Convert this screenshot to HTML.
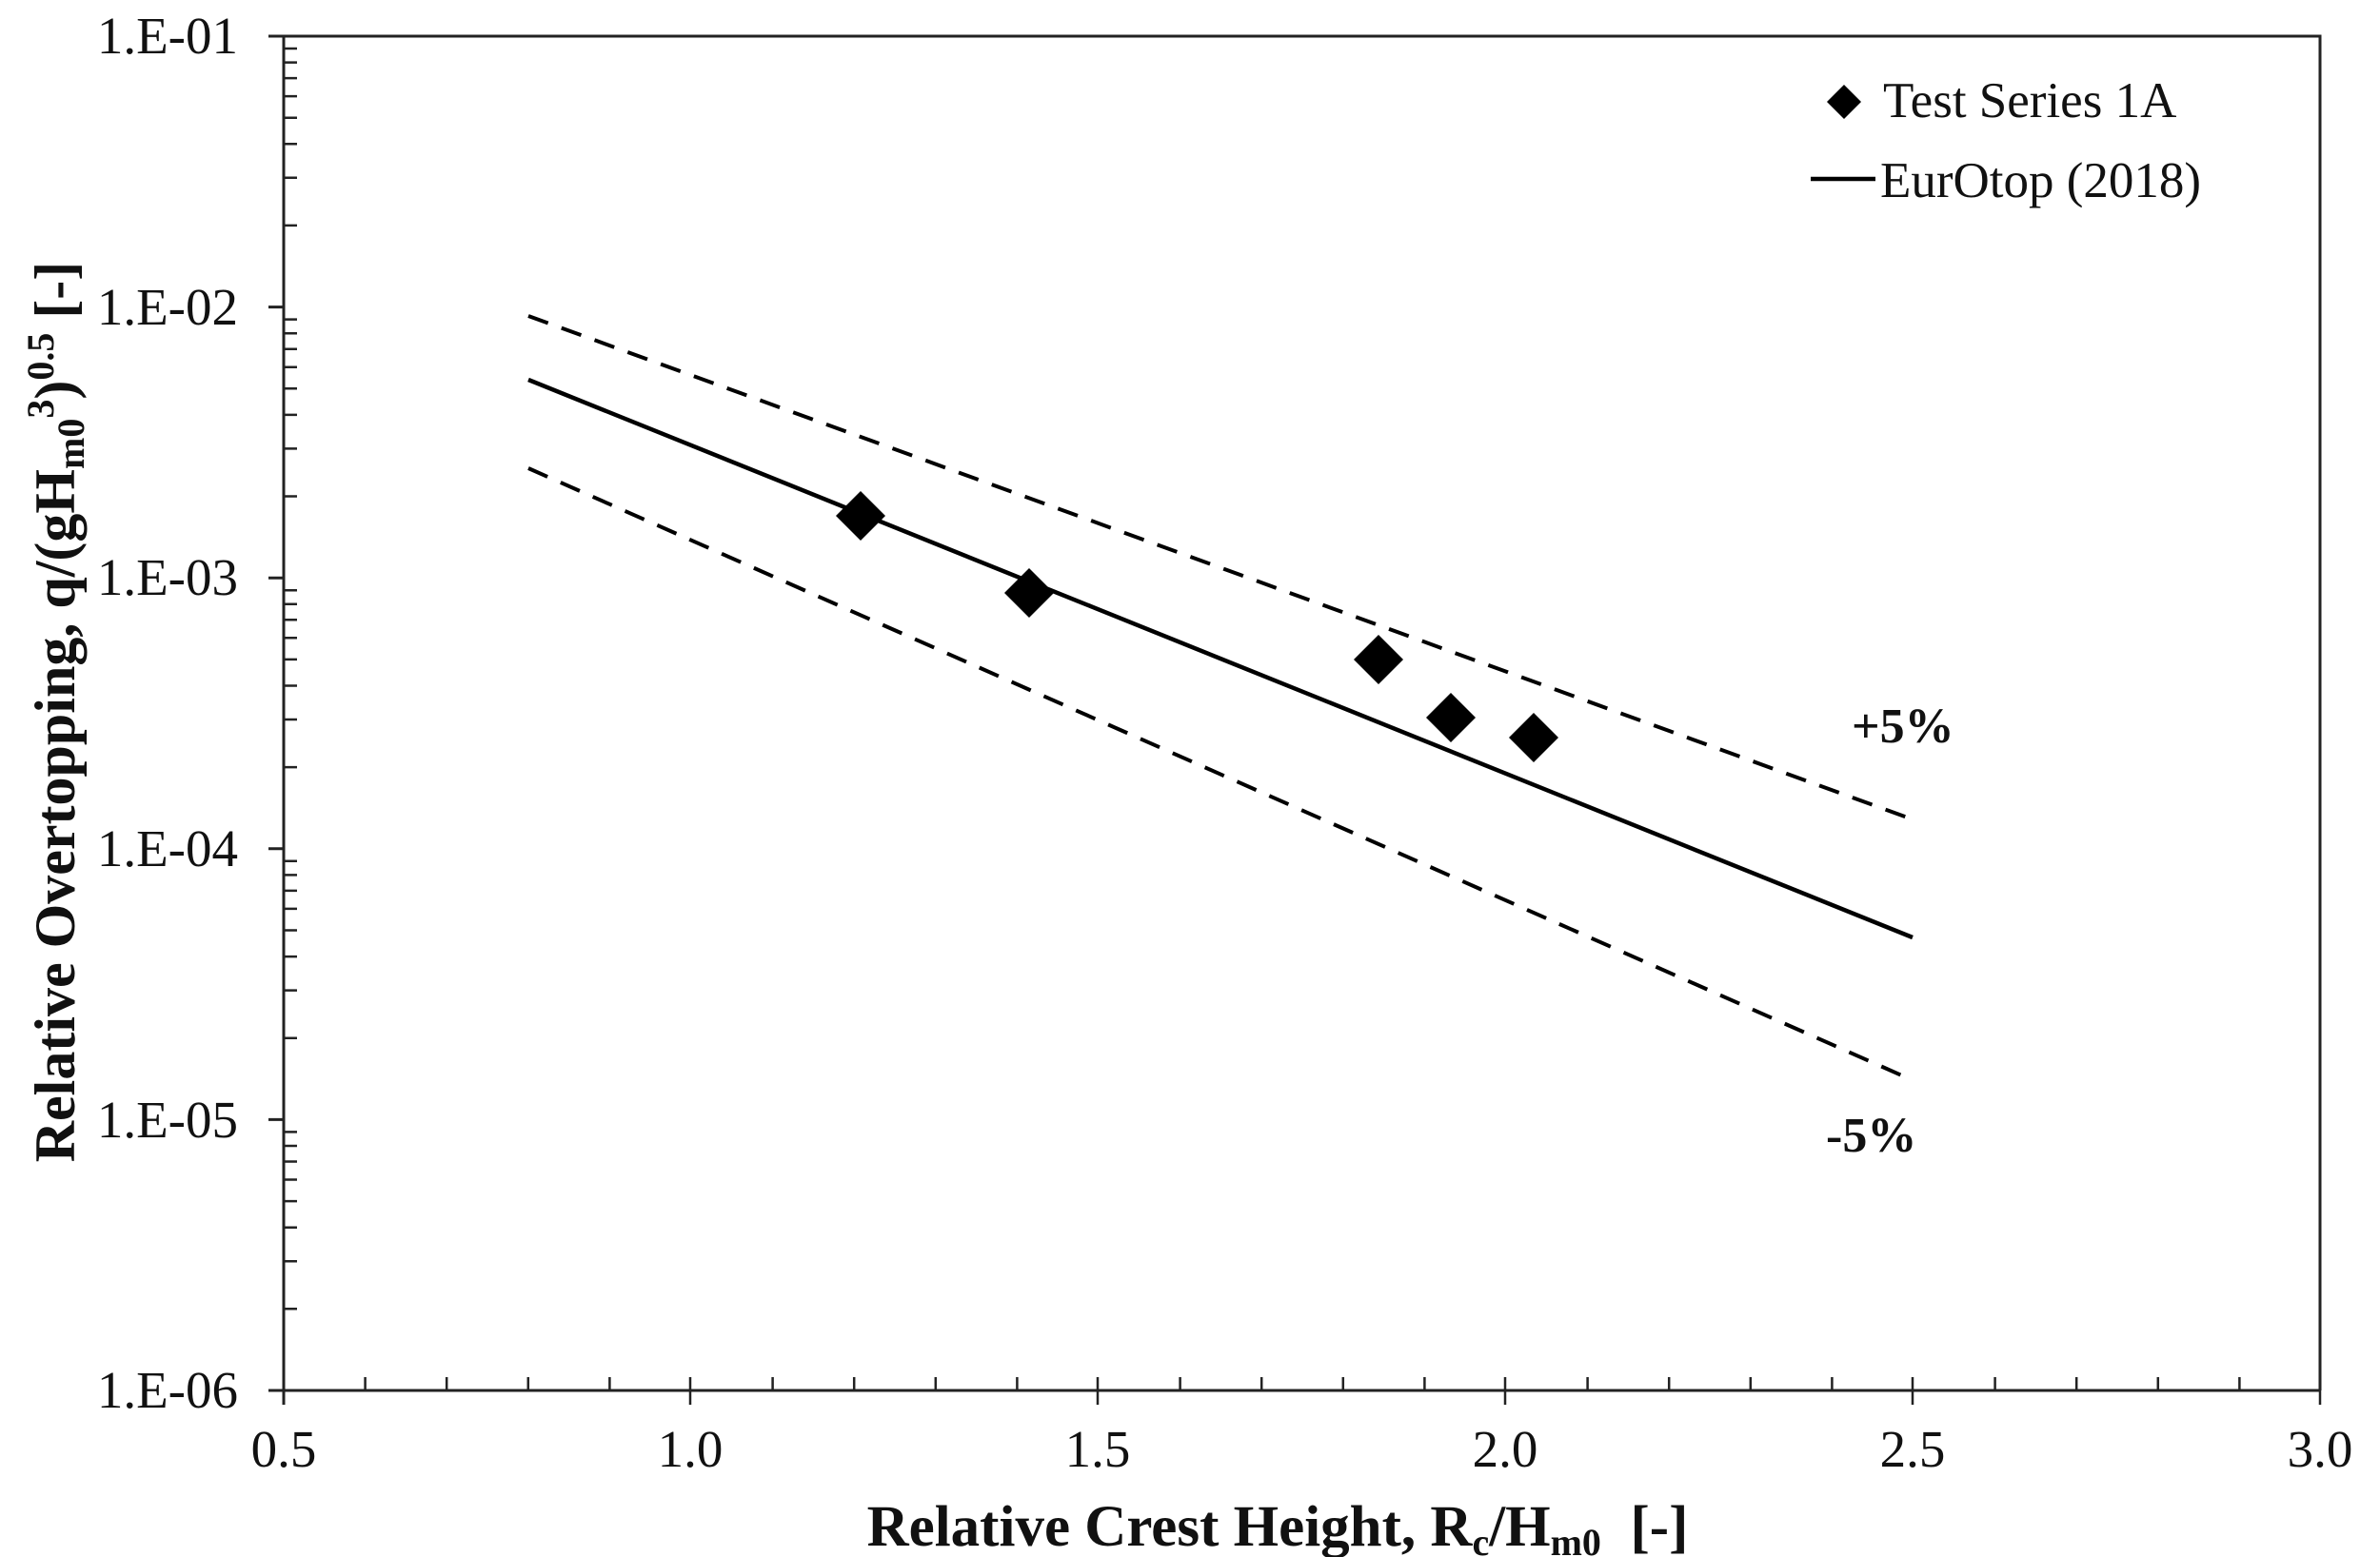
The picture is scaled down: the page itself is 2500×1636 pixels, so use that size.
<!DOCTYPE html>
<html><head><meta charset="utf-8"><style>html,body{margin:0;padding:0;background:#fff}svg{display:block}</style></head>
<body>
<svg width="2500" height="1636" viewBox="0 0 2500 1636" xmlns="http://www.w3.org/2000/svg" xmlns:xlink="http://www.w3.org/1999/xlink" font-family="'Liberation Serif', serif">
<defs>
<path id="dec" stroke="#222" stroke-width="2.5" d="M298 -85.7h14 M298 -135.8h14 M298 -171.3h14 M298 -198.9h14 M298 -221.5h14 M298 -240.5h14 M298 -257h14 M298 -271.6h14"/>
<path id="xm" stroke="#222" stroke-width="2.5" d="M383.6 1447v14 M469.2 1447v14 M554.8 1447v14 M640.4 1447v14 M725 1447v29"/>
</defs>
<rect width="2500" height="1636" fill="#fff"/>
<g stroke="#222" stroke-width="3" fill="none">
<path d="M283 38 H2437 V1461 M298 38 V1476 M283 1461 H2437"/>
<path d="M282 38H298 M282 322.6H298 M282 607.2H298 M282 891.8H298 M282 1176.4H298 M282 1461H298"/>
</g>
<use xlink:href="#dec" href="#dec" y="322.6"/>
<use xlink:href="#dec" href="#dec" y="607.2"/>
<use xlink:href="#dec" href="#dec" y="891.8"/>
<use xlink:href="#dec" href="#dec" y="1176.4"/>
<use xlink:href="#dec" href="#dec" y="1461"/>
<use xlink:href="#xm" href="#xm" x="0"/>
<use xlink:href="#xm" href="#xm" x="428"/>
<use xlink:href="#xm" href="#xm" x="856"/>
<use xlink:href="#xm" href="#xm" x="1284"/>
<use xlink:href="#xm" href="#xm" x="1712"/>
<g stroke="#000" stroke-width="4.5" fill="none">
<line x1="555" y1="399" x2="2009" y2="985"/>
</g>
<g stroke="#000" stroke-width="4" fill="none" stroke-dasharray="22 15">
<line x1="555" y1="332" x2="2009" y2="861"/>
<line x1="555" y1="492" x2="2009" y2="1135"/>
</g>
<g fill="#000">
<path d="M904 516 l26 26 l-26 26 l-26 -26z"/>
<path d="M1081 597 l26 26 l-26 26 l-26 -26z"/>
<path d="M1448 667 l26 26 l-26 26 l-26 -26z"/>
<path d="M1524 728 l26 26 l-26 26 l-26 -26z"/>
<path d="M1611 749 l26 26 l-26 26 l-26 -26z"/>
<path d="M1937 89 l18 18 l-18 18 l-18 -18z"/>
</g>
<line x1="1902" y1="188" x2="1970" y2="188" stroke="#000" stroke-width="4.5"/>
<g font-size="53" fill="#111">
<text x="1978" y="123">Test Series 1A</text>
<text x="1975" y="207">EurOtop (2018)</text>
</g>
<g font-size="55" fill="#111" text-anchor="end">
<text x="250" y="56">1.E-01</text>
<text x="250" y="341">1.E-02</text>
<text x="250" y="625">1.E-03</text>
<text x="250" y="910">1.E-04</text>
<text x="250" y="1195">1.E-05</text>
<text x="250" y="1479">1.E-06</text>
</g>
<g font-size="55" fill="#111" text-anchor="middle">
<text x="298" y="1541">0.5</text>
<text x="725" y="1541">1.0</text>
<text x="1153" y="1541">1.5</text>
<text x="1581" y="1541">2.0</text>
<text x="2009" y="1541">2.5</text>
<text x="2437" y="1541">3.0</text>
</g>
<g font-size="52" font-weight="bold" fill="#111">
<text x="1945" y="780">+5%</text>
<text x="1918" y="1210">-5%</text>
</g>
<text x="1342" y="1624" font-size="61" font-weight="bold" text-anchor="middle" fill="#111">Relative Crest Height, R<tspan font-size="40" dy="10">c</tspan><tspan dy="-10">/H</tspan><tspan font-size="40" dy="10">m0</tspan><tspan dy="-10" xml:space="preserve">  [-]</tspan></text>
<text transform="translate(78,748) rotate(-90)" font-size="60" font-weight="bold" text-anchor="middle" fill="#111">Relative Overtopping, q/(gH<tspan font-size="40" dy="10">m0</tspan><tspan font-size="40" dy="-32">3</tspan><tspan dy="22">)</tspan><tspan font-size="40" dy="-22">0.5</tspan><tspan dy="22"> [-]</tspan></text>
</svg>
</body></html>
